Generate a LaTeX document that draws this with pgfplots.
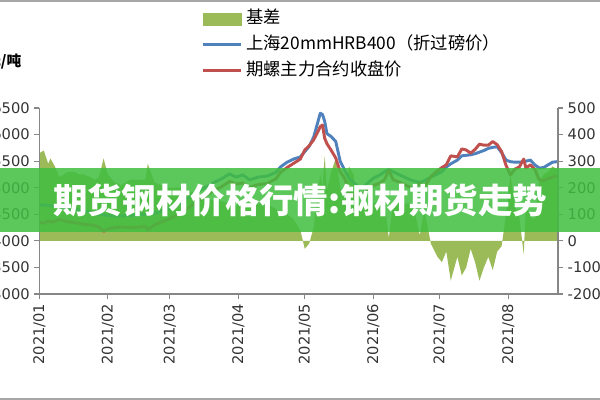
\documentclass[border=0pt]{standalone}
\usepackage{fontspec}
\setmainfont{DejaVu Sans}
\newfontfamily\cjk{Noto Sans CJK SC}
\usepackage{pgfplots}
\pgfplotsset{compat=1.18}
\usepackage{pgfplotstable}

\definecolor{basis}{HTML}{9BBB59}
\definecolor{spot}{HTML}{4F81BD}
\definecolor{fut}{HTML}{C0504D}
\definecolor{axisgray}{HTML}{868686}
\definecolor{band}{HTML}{40BE40}

% d = days from 2021-01-01, spot = Shanghai HRB400, fut = rebar main contract, basis = spot - fut
\pgfplotstableread{
d spot fut basis
0 4680 4350 330
2 4670 4330 340
4 4670 4380 290
5 4660 4350 310
7 4650 4370 280
9 4640 4400 240
11 4630 4380 250
13 4620 4360 260
16 4600 4340 260
18 4580 4330 250
20 4560 4310 250
23 4540 4300 240
25 4520 4290 230
27 4500 4260 240
29 4490 4180 310
31 4480 4230 250
34 4470 4250 220
37 4470 4260 210
41 4480 4250 230
45 4490 4260 230
48 4500 4270 230
49 4500 4210 290
52 4520 4300 220
55 4560 4350 210
58 4600 4400 200
61 4660 4460 200
64 4720 4520 200
67 4800 4610 190
70 4880 4700 180
73 4960 4790 170
76 5030 4870 160
79 5100 4950 150
82 5160 5010 150
86 5260 5120 140
89 5200 5070 130
92 5240 5090 150
95 5150 5010 140
99 5200 5060 140
103 5220 5080 140
107 5290 5170 120
109 5390 5290 100
112 5480 5380 100
115 5540 5460 80
118 5580 5540 40
120 5680 5710 -30
122 5780 5790 -10
124 5950 5900 50
126 6250 6060 190
127 6400 6150 250
128 6380 6180 200
129 6250 5930 320
130 6020 5830 190
132 5960 5700 260
134 5870 5560 310
136 5500 5300 200
138 5330 5180 150
140 5180 4900 280
142 5100 4850 250
144 5030 4880 150
146 5000 4870 130
148 5070 4950 120
151 5180 5040 140
154 5240 5090 150
156 5300 5150 150
158 5340 5330 10
160 5300 5150 150
163 5240 5100 140
166 5180 5040 140
169 5130 4990 140
172 5100 5080 20
174 5130 5010 120
177 5200 5210 -10
180 5260 5320 -60
182 5300 5380 -80
184 5390 5430 -40
186 5450 5600 -150
189 5520 5580 -60
191 5600 5730 -130
193 5610 5710 -100
195 5620 5650 -30
197 5640 5720 -80
199 5670 5820 -150
201 5700 5800 -100
203 5740 5800 -60
205 5760 5870 -110
207 5770 5810 -40
209 5660 5680 -20
211 5520 5420 100
213 5490 5240 250
215 5480 5350 130
217 5480 5390 90
219 5490 5540 -50
220 5500 5370 130
222 5520 5430 90
224 5430 5350 80
226 5370 5150 220
228 5380 5130 250
230 5430 5170 260
232 5480 5200 280
234 5490 5220 270
}\prices

\pgfplotsset{
  chartbase/.style={
    at={(29.55pt,79.5pt)}, anchor=south west,
    scale only axis, width=388.95pt, height=139.5pt,
    xmin=0, xmax=234.5,
    axis line style={axisgray, line width=0.8pt},
    tick style={axisgray, line width=0.8pt},
    tick align=outside, major tick length=3.75pt,
    ticklabel style={font=\fontsize{11}{13}\selectfont, text=black!80},
    /pgf/number format/assume math mode=true,
    /pgf/number format/1000 sep={},
  }
}

\begin{document}
\begin{tikzpicture}[x=0.75pt,y=0.75pt]
% basis on the right axis
\begin{axis}[chartbase,
    axis y line*=right, axis x line=none,
    ymin=-200, ymax=500, ytick={-200,-100,...,500},
  ]
  \addplot[fill=basis, draw=none] table[x=d, y=basis] {\prices} \closedcycle;
\end{axis}
% prices on the left axis
\begin{axis}[chartbase,
    axis y line*=left, axis x line*=bottom,
    ymin=3000, ymax=6500, ytick={3000,3500,...,6500},
    xtick={0,31,59,90,120,151,181,212},
    xticklabels={2021/01,2021/02,2021/03,2021/04,2021/05,2021/06,2021/07,2021/08},
    xticklabel style={rotate=90, anchor=east},
    legend image code/.code={\draw[#1] (0pt,0pt) -- (28.5pt,0pt);},
    legend style={at={(0.313,1.543)}, anchor=north west, draw=none, fill=none,
      inner sep=0pt, row sep=1.2pt, font=\cjk\fontsize{13}{15}\selectfont,
      nodes={text height=10pt, text depth=3pt, inner sep=2.5pt},
      cells={anchor=west}},
  ]
  \addlegendimage{legend image code/.code={\fill[basis] (0pt,-4.5pt) rectangle (28.5pt,4.5pt);}}
  \addplot[spot, line width=2.2pt, line join=round] table[x=d, y=spot] {\prices};
  \addplot[fut, line width=2.2pt, line join=round] table[x=d, y=fut] {\prices};
  \legend{基差, 上海20mmHRB400（折过磅价）, 期螺主力合约收盘价}
\end{axis}
% overlaid banner
\fill[band, opacity=0.85] (0,168) rectangle (600,232);
\node[text=white, font=\cjk\bfseries\fontsize{25.8}{28}\selectfont] at (300,200) {期货钢材价格行情:钢材期货走势};
\node[anchor=east, font=\cjk\bfseries\fontsize{11}{13}\selectfont] at (26,338) {元/吨};
\draw[gray!70, line width=1.5pt] (0,399) -- (600,399);
\draw[gray!70, line width=1.5pt] (0,1) -- (600,1);
\pgfresetboundingbox
\path[use as bounding box] (0,0) rectangle (600,400);
\end{tikzpicture}
\end{document}
